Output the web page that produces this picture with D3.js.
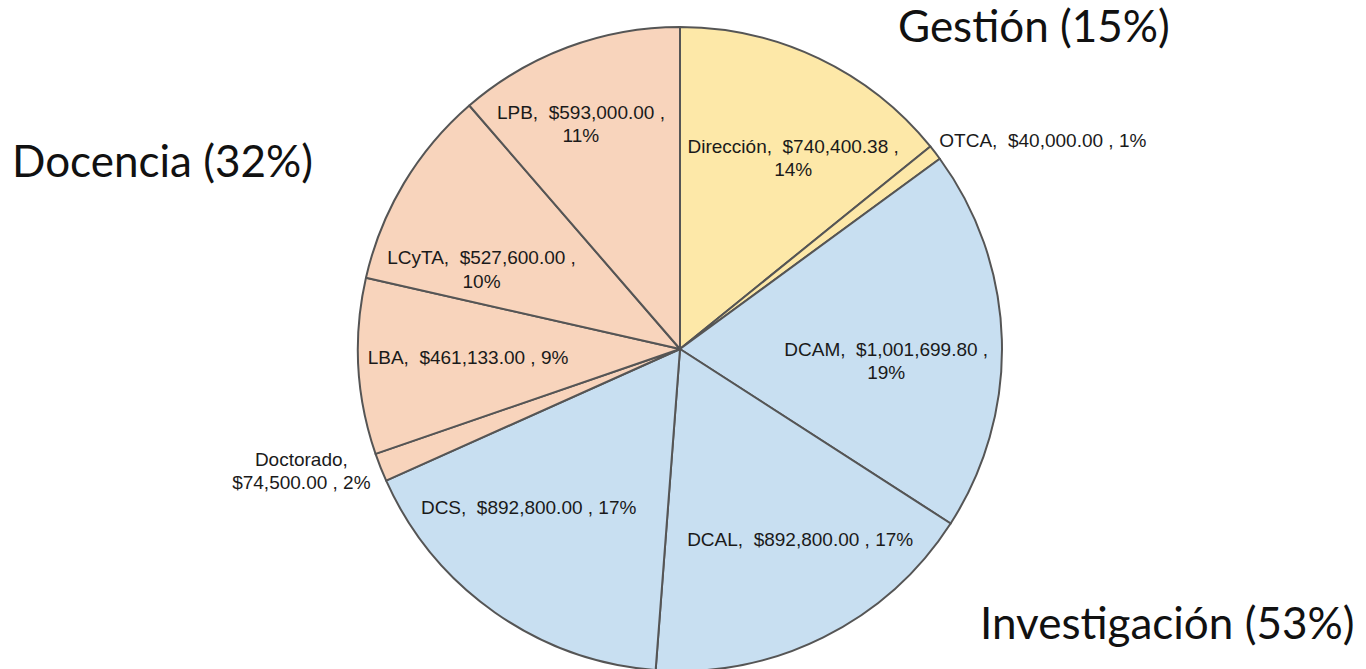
<!DOCTYPE html>
<html>
<head>
<meta charset="utf-8">
<script src="https://cdn.jsdelivr.net/npm/d3@7"></script>
<style>
  body { margin: 0; background: #fff; }
  svg { display: block; }
  text { white-space: pre; }
</style>
</head>
<body>
<svg id="pie"></svg>
<script>
var w = 1366;
var h = 669;

// slices, clockwise from 12 o'clock
var names = ["Dirección", "OTCA", "DCAM", "DCAL", "DCS", "Doctorado", "LBA", "LCyTA", "LPB"];
var amounts = [740400.38, 40000.00, 1001699.80, 892800.00, 892800.00, 74500.00, 461133.00, 527600.00, 593000.00];
var pctLabels = ["14%", "1%", "19%", "17%", "17%", "2%", "9%", "10%", "11%"];
var groupOf = ["Gestión", "Gestión", "Investigación", "Investigación", "Investigación", "Docencia", "Docencia", "Docencia", "Docencia"];

var groups = ["Gestión", "Docencia", "Investigación"];
var groupColors = { "Gestión": "#fde8a8", "Docencia": "#f8d4bc", "Investigación": "#c8dff1" };

// label layout: nudge from centroid, and how the text is broken into lines
var labelNudge = [[23, -2], [197, -81], [-3, 18], [27, 3], [-31, -13], [-184, 45], [-3, -3], [-19, 28], [-26, -29]];
var labelLines = [
    function (d) { return [d.name + ",  " + d.money + " ,", d.pct]; },
    function (d) { return [d.name + ",  " + d.money + " , " + d.pct]; },
    function (d) { return [d.name + ",  " + d.money + " ,", d.pct]; },
    function (d) { return [d.name + ",  " + d.money + " , " + d.pct]; },
    function (d) { return [d.name + ",  " + d.money + " , " + d.pct]; },
    function (d) { return [d.name + ",", d.money + " , " + d.pct]; },
    function (d) { return [d.name + ",  " + d.money + " , " + d.pct]; },
    function (d) { return [d.name + ",  " + d.money + " ,", d.pct]; },
    function (d) { return [d.name + ",  " + d.money + " ,", d.pct]; }
];

var cx = 680, cy = 349, r = 322;
var fmt = d3.format("$,.2f");

var slices = names.map(function (n, i) {
    return { name: n, value: amounts[i], money: fmt(amounts[i]), pct: pctLabels[i], group: groupOf[i], i: i };
});

var svg = d3.select("#pie").attr("width", w).attr("height", h);

var pie = d3.pie().sort(null).value(function (d) { return d.value; });
var arc = d3.arc().innerRadius(0).outerRadius(r);
var labelArc = d3.arc().innerRadius(r * 0.65).outerRadius(r * 0.65);

var arcs = pie(slices);
var g = svg.append("g").attr("transform", "translate(" + cx + "," + cy + ")");

g.selectAll("path")
    .data(arcs)
    .enter()
    .append("path")
    .attr("d", arc)
    .style("fill", function (d) { return groupColors[d.data.group]; })
    .style("stroke", "#555")
    .style("stroke-width", 2)
    .style("stroke-linejoin", "round");

var labels = g.selectAll("text.slice")
    .data(arcs)
    .enter()
    .append("text")
    .attr("class", "slice")
    .attr("text-anchor", "middle")
    .style("font-family", "'Liberation Sans', Arial, sans-serif")
    .style("font-size", "19px")
    .style("fill", "#1a1a1a")
    .attr("transform", function (d) {
        var c = labelArc.centroid(d);
        var n = labelNudge[d.data.i];
        return "translate(" + (c[0] + n[0]) + "," + (c[1] + n[1]) + ")";
    });

labels.each(function (d) {
    var lines = labelLines[d.data.i](d.data);
    var t = d3.select(this);
    var off = -(lines.length - 1) * 23.5 / 2;
    lines.forEach(function (s, k) {
        t.append("tspan")
            .attr("x", 0)
            .attr("y", off + k * 23.5)
            .attr("dy", "0.35em")
            .text(s);
    });
});

// group titles with their share of the total
var total = d3.sum(amounts);
var groupPct = groups.map(function (gname) {
    var s = d3.sum(slices.filter(function (d) { return d.group === gname; }), function (d) { return d.value; });
    return Math.round(s / total * 100);
});
var groupPos = [[898, 42], [12, 177], [980, 639]];

svg.selectAll("text.group")
    .data(groups)
    .enter()
    .append("text")
    .attr("class", "group")
    .attr("x", function (d, i) { return groupPos[i][0]; })
    .attr("y", function (d, i) { return groupPos[i][1]; })
    .style("font-family", "Lato, 'Open Sans', sans-serif")
    .style("font-size", "44px")
    .style("fill", "#111")
    .text(function (d, i) { return d + " (" + groupPct[i] + "%)"; });
</script>
</body>
</html>
